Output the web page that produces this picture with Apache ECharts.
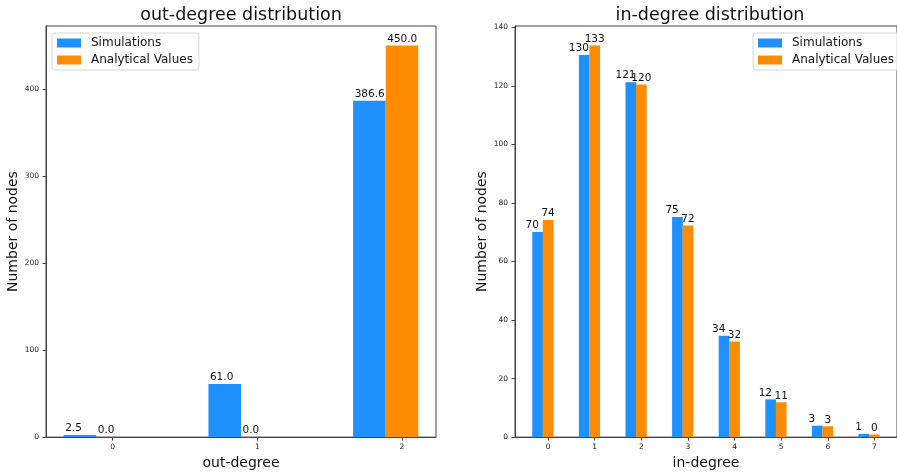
<!DOCTYPE html>
<html>
<head>
<meta charset="utf-8">
<script src="https://cdn.jsdelivr.net/npm/echarts@6/dist/echarts.min.js"></script>
<style>
html,body{margin:0;padding:0;background:#fff;}
#c{width:897px;height:475px;}
</style>
</head>
<body>
<div id="c"></div>
<script>
// ---- data ----
const outDegrees = [0, 1, 2];
const outSimulations = [2.5, 61.0, 386.6];
const outAnalytical = [0.0, 0.0, 450.0];
const inDegrees = [0, 1, 2, 3, 4, 5, 6, 7];
const inSimulations = [70.1, 130.6, 121.3, 75.2, 34.6, 12.9, 3.9, 1.1];
const inAnalytical = [74.2, 133.8, 120.5, 72.3, 32.7, 11.9, 3.7, 0.9];
const outYTicks = [0, 100, 200, 300, 400];
const inYTicks = [0, 20, 40, 60, 80, 100, 120, 140];
const seriesNames = ['Simulations', 'Analytical Values'];

// ---- layout ----
const FONT = 'DejaVu Sans';
const BLUE = '#1e90ff', ORANGE = '#ff8c00';
const W = 0.225; // bar width in data units
const g1 = {left: 46, top: 26, width: 390, height: 416};
const g2 = {left: 515, top: 26, width: 390, height: 416};
const x1min = -0.46, x1max = 2.235;
const x2min = -0.71, x2max = 7.485;
const bw1 = g1.width / (x1max - x1min) * W;
const bw2 = g2.width / (x2max - x2min) * W;
const y1max = Math.max(...outAnalytical, ...outSimulations) * 1.05;
const y2max = Math.max(...inAnalytical, ...inSimulations) * 1.05;

const axisLineStyle = {color: '#444', width: 1};
function xAxis(gridIndex, min, max, ticks, name) {
  return {
    type: 'value', gridIndex, min, max, name,
    nameLocation: 'middle', nameGap: 17,
    nameTextStyle: {fontFamily: FONT, fontSize: 14, color: '#111'},
    axisLine: {show: true, onZero: false, lineStyle: axisLineStyle},
    axisTick: {show: true, length: 3.5, lineStyle: axisLineStyle, customValues: ticks},
    axisLabel: {fontFamily: FONT, fontSize: 7.5, color: '#222', margin: 6, customValues: ticks},
    splitLine: {show: false}
  };
}
function yAxis(gridIndex, max, ticks) {
  return {
    type: 'value', gridIndex, min: 0, max,
    name: 'Number of nodes', nameLocation: 'middle', nameGap: 24, nameRotate: 90,
    nameTextStyle: {fontFamily: FONT, fontSize: 14, color: '#111'},
    axisLine: {show: true, onZero: false, lineStyle: axisLineStyle},
    axisTick: {show: true, length: 3.5, lineStyle: axisLineStyle, customValues: ticks},
    axisLabel: {fontFamily: FONT, fontSize: 7.5, color: '#222', margin: 7, customValues: ticks},
    splitLine: {show: false}
  };
}
function legend(left, top) {
  return {
    data: seriesNames, orient: 'vertical', left, top,
    itemWidth: 24, itemHeight: 9, itemGap: 3,
    icon: 'rect',
    padding: [3, 6, 3, 5],
    borderColor: '#d6d6d6', borderWidth: 1, borderRadius: 3,
    backgroundColor: 'rgba(255,255,255,0.8)',
    textStyle: {fontFamily: FONT, fontSize: 12, color: '#111', lineHeight: 14, padding: [0, 0, 0, 5]}
  };
}
const labelFont = {fontFamily: FONT, fontSize: 10.5, color: '#111'};

const option = {
  animation: false,
  backgroundColor: '#fff',
  title: [
    {text: 'out-degree distribution', left: g1.left + g1.width / 2, top: 6, textAlign: 'center', padding: 0,
     textStyle: {fontFamily: FONT, fontSize: 17.5, fontWeight: 'normal', color: '#111'}},
    {text: 'in-degree distribution', left: g2.left + g2.width / 2, top: 6, textAlign: 'center', padding: 0,
     textStyle: {fontFamily: FONT, fontSize: 17.5, fontWeight: 'normal', color: '#111'}}
  ],
  legend: [legend(52, 33), legend(753, 33)],
  grid: [
    Object.assign({show: true, borderColor: '#444', borderWidth: 1, backgroundColor: 'transparent'}, g1),
    Object.assign({show: true, borderColor: '#444', borderWidth: 1, backgroundColor: 'transparent'}, g2)
  ],
  xAxis: [
    xAxis(0, x1min, x1max, outDegrees, 'out-degree'),
    xAxis(1, x2min, x2max, inDegrees, 'in-degree')
  ],
  yAxis: [
    yAxis(0, y1max, outYTicks),
    yAxis(1, y2max, inYTicks)
  ],
  series: [
    {
      name: seriesNames[0], type: 'bar', xAxisIndex: 0, yAxisIndex: 0,
      barWidth: bw1, barGap: '-100%', itemStyle: {color: BLUE},
      data: outDegrees.map((d, i) => [d - W, outSimulations[i]]),
      label: {show: true, position: [1.5, -1], align: 'left', verticalAlign: 'bottom', ...labelFont,
        formatter: p => p.value[1].toFixed(1)}
    },
    {
      name: seriesNames[1], type: 'bar', xAxisIndex: 0, yAxisIndex: 0,
      barWidth: bw1, barGap: '-100%', itemStyle: {color: ORANGE},
      data: outDegrees.map((d, i) => [d, outAnalytical[i]]),
      label: {show: true, position: [1.5, -1], align: 'left', verticalAlign: 'bottom', ...labelFont,
        formatter: p => p.value[1].toFixed(1)}
    },
    {
      name: seriesNames[0], type: 'bar', xAxisIndex: 1, yAxisIndex: 1,
      barWidth: bw2, barGap: '-100%', itemStyle: {color: BLUE},
      data: inDegrees.map((d, i) => [d - W, inSimulations[i]]),
      label: {show: true, position: [0, -1], align: 'center', verticalAlign: 'bottom', ...labelFont,
        formatter: p => String(Math.floor(p.value[1]))}
    },
    {
      name: seriesNames[1], type: 'bar', xAxisIndex: 1, yAxisIndex: 1,
      barWidth: bw2, barGap: '-100%', itemStyle: {color: ORANGE},
      data: inDegrees.map((d, i) => [d, inAnalytical[i]]),
      label: {show: true, position: 'top', distance: 1, ...labelFont,
        formatter: p => String(Math.floor(p.value[1]))}
    }
  ]
};
const chart = echarts.init(document.getElementById('c'), null, {renderer: 'canvas'});
chart.setOption(option);
</script>
</body>
</html>
